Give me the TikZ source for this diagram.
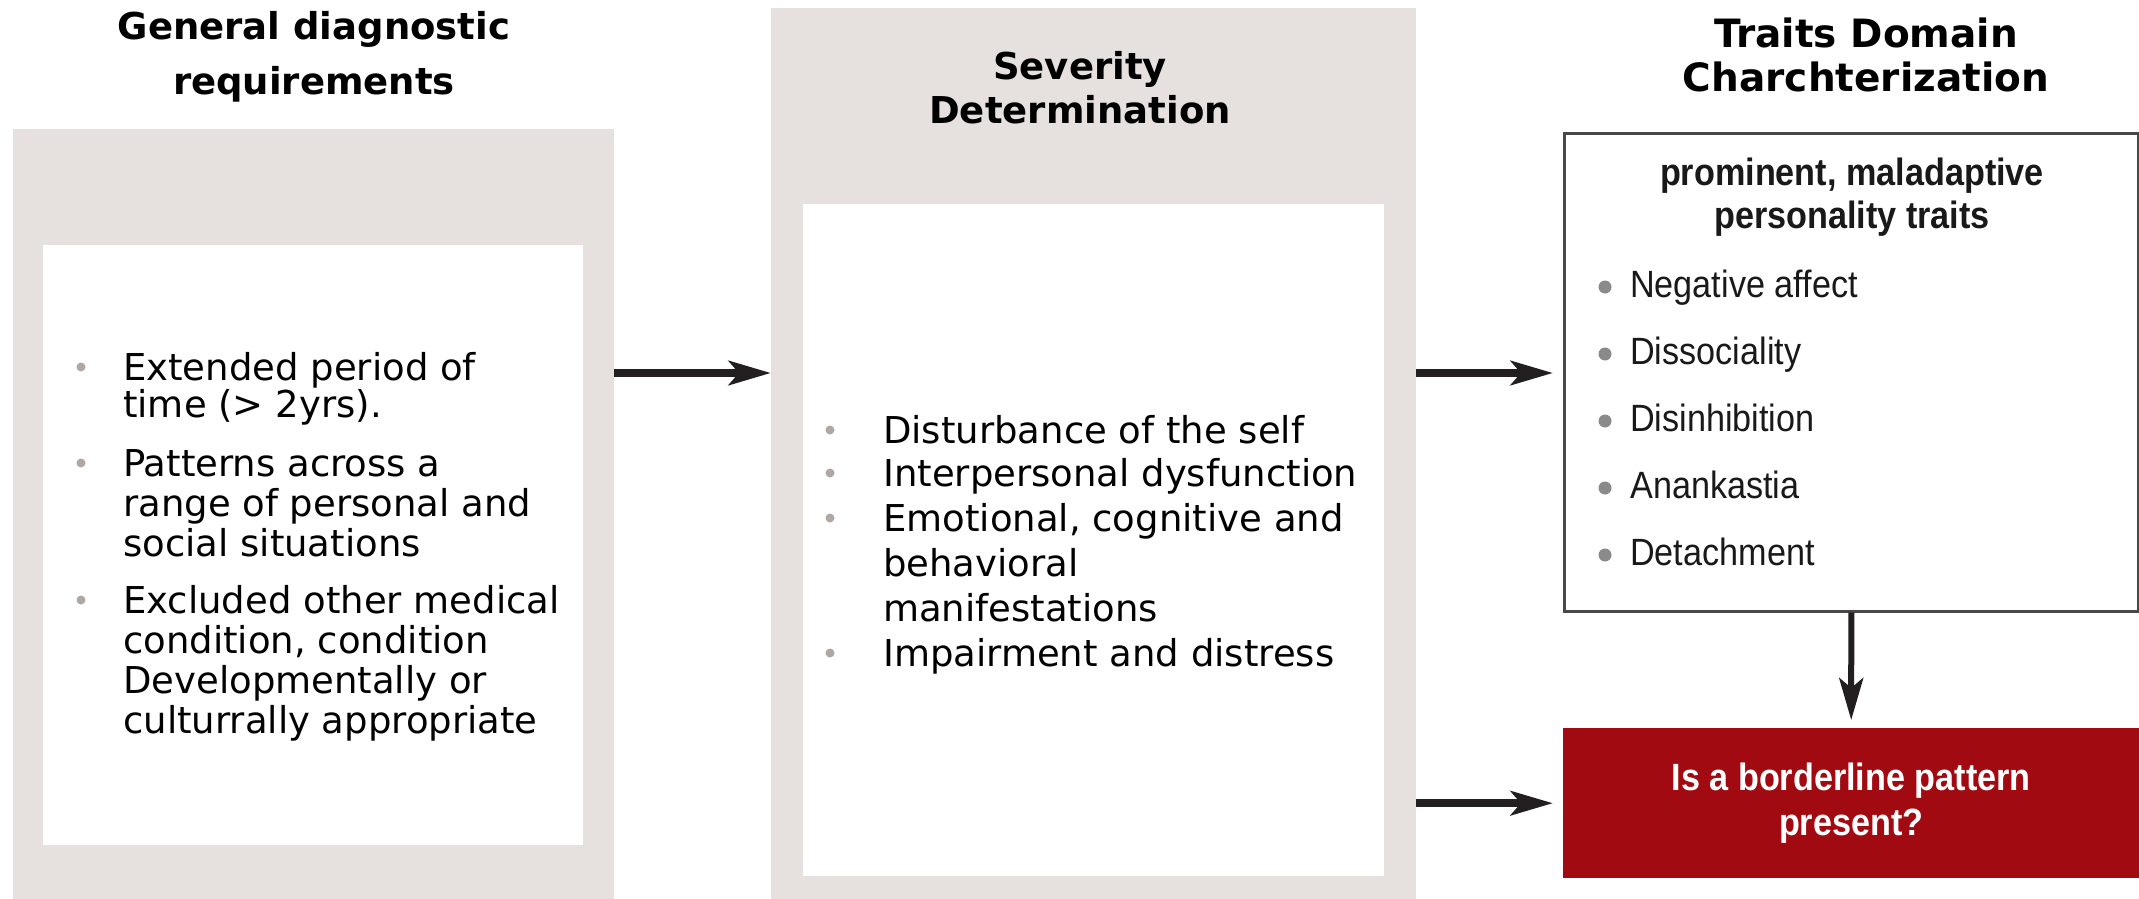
\documentclass[tikz,border=0pt]{standalone}
\usepackage{fontspec}
\setmainfont{DejaVu Sans}
\newfontfamily\narrowfont[FakeStretch=0.9]{Liberation Sans}
\usetikzlibrary{arrows.meta}

\definecolor{panelgray}{HTML}{E6E1DE}
\definecolor{dotgray}{HTML}{B0A6A2}
\definecolor{traitdot}{HTML}{8A8A8A}
\definecolor{alertred}{HTML}{A00A10}
\definecolor{framegray}{HTML}{484848}
\definecolor{arrowink}{HTML}{231F20}

\tikzset{
  panel/.style={fill=panelgray, draw=none, anchor=north west, inner sep=0pt},
  sheet/.style={fill=white, draw=none, anchor=north west, inner sep=0pt},
  title/.style={anchor=base, inner sep=0pt, font=\bfseries\fontsize{37}{40}\selectfont},
  item/.style={anchor=base west, inner sep=0pt, font=\fontsize{37}{39}\selectfont},
  trait/.style={anchor=base west, inner sep=0pt, font=\narrowfont\fontsize{38}{40}\selectfont, text=black!90},
  flow/.style={line width=8pt, draw=arrowink, -{Stealth[length=42pt, width=24pt, inset=10pt]}},
}

\begin{document}
\begin{tikzpicture}[x=1pt, y=-1pt]
  \useasboundingbox (0,0) rectangle (2139,899);

  % panels
  \node[panel, minimum width=601pt, minimum height=770pt] (genpanel) at (13,129) {};
  \node[sheet, minimum width=540pt, minimum height=600pt] (gensheet) at (43,245) {};
  \node[panel, minimum width=645pt, minimum height=891pt] (sevpanel) at (771,8) {};
  \node[sheet, minimum width=581pt, minimum height=672pt] (sevsheet) at (803,204) {};
  \node[draw=framegray, line width=2.5pt, fill=white, anchor=north west, inner sep=0pt,
        minimum width=574pt, minimum height=478pt] (traits) at (1563,132) {};
  \node[fill=alertred, anchor=north west, inner sep=0pt, minimum width=576pt, minimum height=150pt,
        align=center, text=white, font=\narrowfont\bfseries\fontsize{38}{45}\selectfont] (pattern)
        at (1563,728) {Is a borderline pattern\\present?};

  % titles
  \node[title] (gentitle) at (314,40) {General diagnostic};
  \node[title] (gentitleb) at (314,95) {requirements};
  \node[title] (sevtitle) at (1080,80) {Severity};
  \node[title] (sevtitleb) at (1080,123) {Determination};
  \node[title, font=\bfseries\fontsize{39}{42}\selectfont] (trtitle) at (1866,48) {Traits Domain};
  \node[title, font=\bfseries\fontsize{39}{42}\selectfont] (trtitleb) at (1866,92) {Charchterization};

  % general requirements
  \foreach \y/\t [count=\i] in {380/Extended period of, 417/time (> 2yrs)., 476/Patterns across a,
      516/range of personal and, 556/social situations, 613/Excluded other medical,
      {653/condition, condition}, 693/Developmentally or, 733/culturrally appropriate}
    \node[item] (gen\i) at (123,\y) {\t};
  \foreach \y in {367,463,600}
    \fill[dotgray] (81,\y) circle (4.5);

  % severity
  \foreach \y/\t [count=\i] in {443/Disturbance of the self, 486/Interpersonal dysfunction,
      {531/Emotional, cognitive and}, 576/behavioral, 621/manifestations, 666/Impairment and distress}
    \node[item] (sev\i) at (883,\y) {\t};
  \foreach \y in {430,473,518,653}
    \fill[dotgray] (830,\y) circle (4.5);

  % traits
  \node[trait, anchor=base, font=\narrowfont\bfseries\fontsize{38}{40}\selectfont] (trhead) at (1852,185) {prominent, maladaptive};
  \node[trait, anchor=base, font=\narrowfont\bfseries\fontsize{38}{40}\selectfont] (trheadb) at (1852,228) {personality traits};
  \foreach \y/\t [count=\i] in {297/Negative affect, 364/Dissociality, 431/Disinhibition,
      498/Anankastia, 565/Detachment}
  {
    \node[trait] (tr\i) at (1630,\y) {\t};
    \fill[traitdot] (1605,\y-10) circle (6.5);
  }

  % arrows
  \coordinate (row) at (0,373);
  \draw[flow] (genpanel.east |- row) -- (sevpanel.west |- row);
  \draw[flow, shorten >=10pt] (sevpanel.east |- row) -- (traits.west |- row);
  \draw[flow, shorten >=10pt] (sevpanel.east |- pattern.west) -- (pattern.west);
  \draw[flow, line width=6pt, shorten >=8pt] (traits.south) -- (pattern.north);
\end{tikzpicture}
\end{document}
